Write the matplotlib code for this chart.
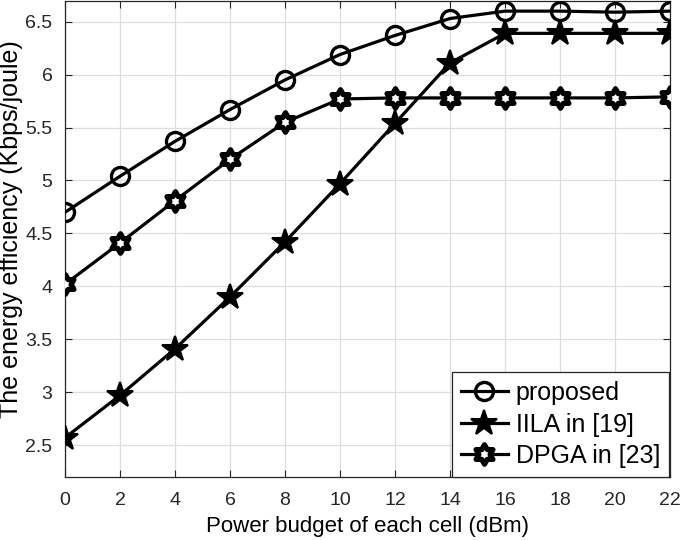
import numpy as np
import matplotlib.pyplot as plt
from matplotlib.path import Path

plt.rcParams['font.family'] = ['Liberation Sans', 'DejaVu Sans']

# power budget (dBm)
power = [0, 2, 4, 6, 8, 10, 12, 14, 16, 18, 20, 22]

# energy efficiency (Kbps/joule)
proposed = [4.70, 5.04, 5.37, 5.67, 5.95, 6.19, 6.37, 6.53, 6.60, 6.60, 6.59, 6.60]
iila = [2.57, 2.97, 3.41, 3.90, 4.42, 4.97, 5.54, 6.11, 6.39, 6.39, 6.39, 6.39]
dpga = [4.02, 4.41, 4.81, 5.20, 5.55, 5.77, 5.78, 5.78, 5.78, 5.78, 5.78, 5.79]

# MATLAB-like hexagram: two overlapping triangles
ang = np.pi / 2 + np.arange(12) * np.pi / 6
rad = np.where(np.arange(12) % 2 == 0, 1.0, 1 / np.sqrt(3))
verts = np.column_stack([rad * np.cos(ang), rad * np.sin(ang)])
hexagram = Path(np.vstack([verts, verts[:1]]), closed=True)

fig = plt.figure(figsize=(6.85, 5.4), dpi=100)
ax = fig.add_axes([0.095, 0.117, 0.883, 0.882])

lw = 2.3
ax.plot(power, proposed, color="black", linewidth=lw, marker="o", markersize=13,
        markerfacecolor="none", markeredgewidth=2.4, label="proposed", zorder=3)
ax.plot(power, iila, color="black", linewidth=lw, marker="*", markersize=19,
        markerfacecolor="black", markeredgewidth=1.5, label="IILA in [19]", zorder=3)
ax.plot(power, dpga, color="black", linewidth=lw, marker=hexagram, markersize=14,
        markerfacecolor="white", markeredgewidth=3.8, label="DPGA in [23]", zorder=3)

ax.set_xlim(0, 22)
ax.set_ylim(2.2, 6.7)
ax.set_xticks(power)
ax.set_yticks([2.5, 3, 3.5, 4, 4.5, 5, 5.5, 6, 6.5])
ax.set_yticklabels(["2.5", "3", "3.5", "4", "4.5", "5", "5.5", "6", "6.5"])
ax.tick_params(direction="in", top=True, right=True, labelsize=14, length=5,
               width=0.8, colors="#262626")
ax.tick_params(axis="x", pad=11)
ax.tick_params(axis="y", pad=9)
ax.grid(True, color="#dedede", linewidth=0.9)
ax.set_axisbelow(True)
for s in ax.spines.values():
    s.set_linewidth(0.9)
    s.set_color("#262626")

ax.set_xlabel("Power budget of each cell (dBm)", fontsize=16, labelpad=5)
ax.set_ylabel("The energy efficiency (Kbps/joule)", fontsize=18)
ax.yaxis.set_label_coords(-0.07, 0.52)

leg = ax.legend(loc="lower right", fontsize=18, fancybox=False, framealpha=1,
                edgecolor="#262626", borderpad=0.35, handlelength=1.9,
                handletextpad=0.3, labelspacing=0.3, borderaxespad=0.0,
                bbox_to_anchor=(0.998, 0.0))
leg.get_frame().set_linewidth(0.9)

fig.savefig("out.png", dpi=100, facecolor="white")
